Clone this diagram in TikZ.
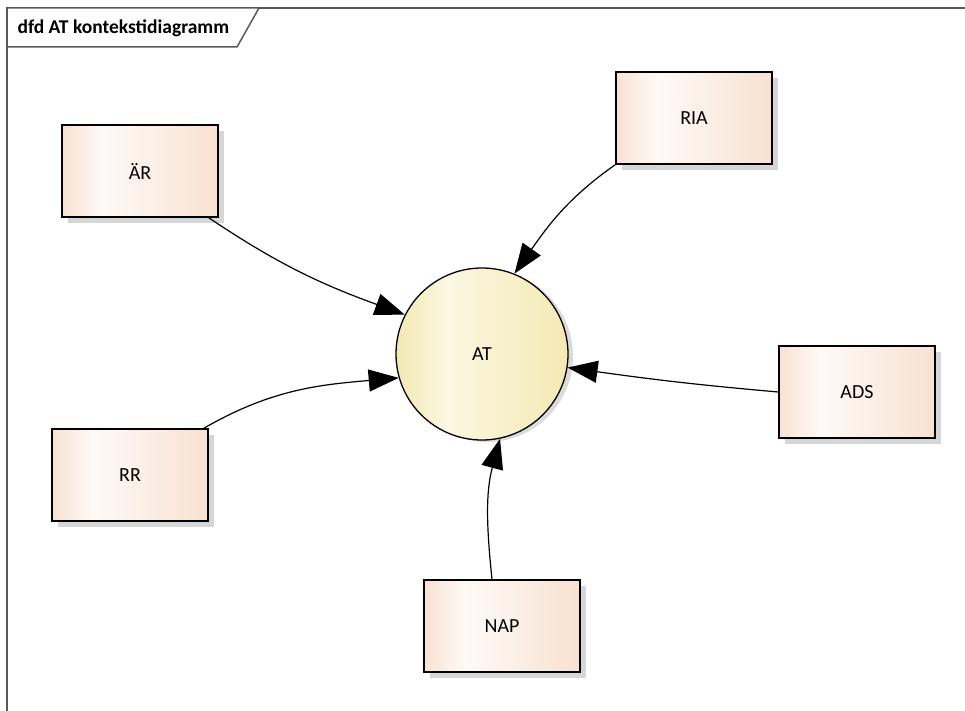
\documentclass[tikz,border=0pt]{standalone}
\usepackage{fontspec}
\setmainfont{Carlito}
\usepackage{xcolor}
\usepackage{tikz}
\usetikzlibrary{arrows.meta,shadows}

\definecolor{peach}{HTML}{F8E1D1}
\definecolor{peachlight}{HTML}{FEFAF7}
\definecolor{sand}{HTML}{F4E9B4}
\definecolor{sandlight}{HTML}{FBF7E1}
\definecolor{framegrey}{HTML}{5A5A5A}

\pgfdeclarehorizontalshading{peachshade}{100bp}{color(0bp)=(peach); color(25bp)=(peach); color(38bp)=(peachlight); color(75bp)=(peach); color(100bp)=(peach)}
\pgfdeclarehorizontalshading{sandshade}{100bp}{color(0bp)=(sand); color(25bp)=(sand); color(40bp)=(sandlight); color(75bp)=(sand); color(100bp)=(sand)}

\tikzset{
  entity/.style={draw=black, line width=1.3pt, minimum width=156pt, minimum height=92pt,
    shading=peachshade,
    drop shadow={shadow xshift=6pt, shadow yshift=-6pt, fill=black!16, opacity=1},
    font=\fontsize{20}{24}\selectfont},
  process/.style={circle, draw=black, line width=1.3pt, minimum size=172pt, inner sep=0pt,
    shading=sandshade,
    drop shadow={shadow xshift=5pt, shadow yshift=-2pt, fill=black!14, opacity=1},
    font=\fontsize{20}{24}\selectfont},
  flow/.style={line width=1.2pt, -{Triangle[length=30pt,width=22pt]}}
}

\begin{document}
\begin{tikzpicture}[x=1pt,y=1pt]
\useasboundingbox (0,0) rectangle (965,-711);

% frame
\draw[framegrey, line width=1.5pt] (966,-8) -- (7,-8) -- (7,-712);
\draw[framegrey, line width=1.5pt, fill=white] (7,-8) -- (259,-8) -- (237,-47) -- (7,-47) -- cycle;
\node[anchor=west, font=\fontsize{19.5}{23}\selectfont\bfseries] (title) at (14,-28) {dfd AT kontekstidiagramm};

% process
\node[process] (AT) at (482,-354) {AT};

% external entities
\node[entity] (AER) at (140,-171) {ÄR};
\node[entity] (RIA) at (694,-118) {RIA};
\node[entity] (ADS) at (857,-392) {ADS};
\node[entity] (NAP) at (502,-626) {NAP};
\node[entity] (RR) at (130,-475) {RR};

% flows
\draw[flow] ([xshift=-10pt]AER.south east) to[out=-34, in=160] (AT.153);
\draw[flow] ([xshift=-5pt]RR.north east) to[out=30, in=185] (AT.196);
\draw[flow] (RIA.south west) to[out=215, in=55] (AT.68);
\draw[flow] (ADS.west) to[out=175, in=-8] (AT.-9);
\draw[flow] ([xshift=-10pt]NAP.north) to[out=96, in=255] (AT.-78);
\end{tikzpicture}
\end{document}
